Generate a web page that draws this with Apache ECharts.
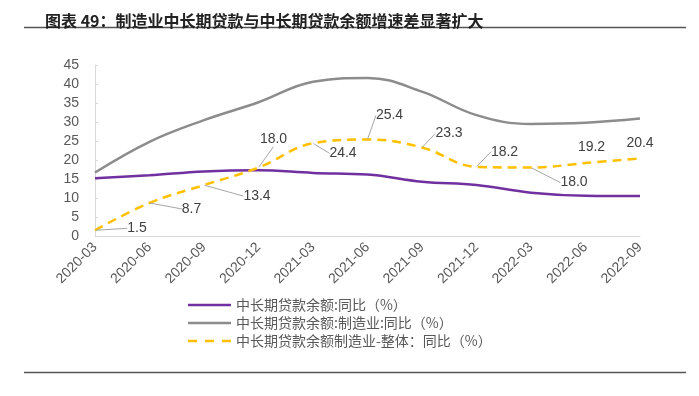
<!DOCTYPE html>
<html>
<head>
<meta charset="utf-8">
<script src="https://cdn.jsdelivr.net/npm/echarts@6/dist/echarts.min.js"></script>
<style>
  html, body { margin: 0; padding: 0; background: #fff; }
  #chart { width: 699px; height: 396px; }
</style>
</head>
<body>
<div id="chart"></div>
<script>
// data
let categories = ['2020-03', '2020-06', '2020-09', '2020-12', '2021-03', '2021-06', '2021-09', '2021-12', '2022-03', '2022-06', '2022-09'];
let loanAll = [15.2, 16.0, 17.0, 17.3, 16.6, 16.2, 14.3, 13.4, 11.4, 10.6, 10.5];
let loanMfg = [16.7, 24.8, 30.5, 35.2, 40.6, 41.6, 38.0, 31.8, 29.5, 29.8, 30.9];
let loanGap = [1.5, 8.7, 13.4, 18.0, 24.4, 25.4, 23.3, 18.2, 18.0, 19.2, 20.4];
let yTicks = [0, 45, 5];

let seriesNames = ['中长期贷款余额:同比（%）', '中长期贷款余额:制造业:同比（%）', '中长期贷款余额制造业-整体：同比（%）'];

// label offsets for the gap series [dx, dy, leader]
let labelShift = [
    [42, -2, true], [42, 6, true], [53, 11, true], [15, -28, true],
    [30, 10, true], [22, -24, true], [27, -14, true], [28, -15, true],
    [43, 15, true], [6, -16, false], [0, -15, false]
];

let gapData = loanGap.map(function (v, i) {
    return {
        value: v,
        labelLine: { show: labelShift[i][2] }
    };
});

var dom = document.getElementById('chart');
var myChart = echarts.init(dom, null, { renderer: 'canvas' });

var option = {
    backgroundColor: '#fff',
    animation: false,
    title: {
        text: '图表 49：制造业中长期贷款与中长期贷款余额增速差显著扩大',
        left: 40,
        top: 8,
        textStyle: {
            fontFamily: 'Noto Sans CJK SC',
            fontSize: 16,
            fontWeight: 'bold',
            color: '#222'
        }
    },
    graphic: [
        {
            type: 'line',
            shape: { x1: 24, y1: 27.5, x2: 686, y2: 27.5 },
            style: { stroke: '#555', lineWidth: 1.5 }
        },
        {
            type: 'line',
            shape: { x1: 24, y1: 372.5, x2: 686, y2: 372.5 },
            style: { stroke: '#555', lineWidth: 1.5 }
        }
    ],
    grid: { left: 95, right: 59, top: 65, bottom: 160 },
    legend: {
        orient: 'vertical',
        left: 183,
        top: 293,
        itemWidth: 43,
        itemHeight: 10,
        itemGap: 4,
        textStyle: {
            fontFamily: 'Noto Sans CJK SC',
            fontSize: 14,
            color: '#595959'
        }
    },
    xAxis: {
        type: 'category',
        data: categories,
        boundaryGap: false,
        axisLine: { lineStyle: { color: '#d9d9d9' } },
        axisTick: { show: false },
        axisLabel: {
            rotate: 45,
            margin: 9,
            interval: 0,
            fontFamily: 'Liberation Sans',
            fontSize: 14,
            color: '#595959'
        }
    },
    yAxis: {
        type: 'value',
        min: yTicks[0],
        max: yTicks[1],
        interval: yTicks[2],
        splitLine: { show: false },
        axisLine: { show: true, lineStyle: { color: '#d9d9d9' } },
        axisTick: { show: true, inside: true, length: 3, lineStyle: { color: '#d9d9d9' } },
        axisLabel: {
            margin: 16,
            fontFamily: 'Liberation Sans',
            fontSize: 14,
            color: '#595959'
        }
    },
    series: [
        {
            name: seriesNames[0],
            type: 'line',
            data: loanAll,
            smooth: 0.4,
            symbol: 'none',
            lineStyle: { color: '#7030a0', width: 2.5 },
            itemStyle: { color: '#7030a0' }
        },
        {
            name: seriesNames[1],
            type: 'line',
            data: loanMfg,
            smooth: 0.4,
            symbol: 'none',
            lineStyle: { color: '#8c8c8c', width: 2.5 },
            itemStyle: { color: '#8c8c8c' }
        },
        {
            name: seriesNames[2],
            type: 'line',
            data: gapData,
            smooth: 0.4,
            symbol: 'circle',
            symbolSize: 1,
            showSymbol: true,
            lineStyle: { color: '#ffc000', width: 2.5, type: [9, 6] },
            itemStyle: { color: 'rgba(0,0,0,0)' },
            label: {
                show: true,
                position: 'inside',
                formatter: function (p) { return p.value.toFixed(1); },
                fontFamily: 'Liberation Sans',
                fontSize: 14,
                color: '#404040'
            },
            labelLine: {
                show: true,
                lineStyle: { color: '#a6a6a6', width: 1 }
            },
            labelLayout: function (params) {
                let s = labelShift[params.dataIndex];
                return { dx: s[0], dy: s[1] };
            }
        }
    ]
};

// legend icons drawn like the original key
option.legend.data = [
    { name: seriesNames[0], icon: 'path://M0,4 L43,4 L43,6.5 L0,6.5 Z', itemStyle: { color: '#7030a0' } },
    { name: seriesNames[1], icon: 'path://M0,4 L43,4 L43,6.5 L0,6.5 Z', itemStyle: { color: '#8c8c8c' } },
    { name: seriesNames[2], icon: 'path://M0,4 L9,4 L9,6.5 L0,6.5 Z M17,4 L26,4 L26,6.5 L17,6.5 Z M34,4 L43,4 L43,6.5 L34,6.5 Z', itemStyle: { color: '#ffc000' } }
];

myChart.setOption(option);
</script>
</body>
</html>
